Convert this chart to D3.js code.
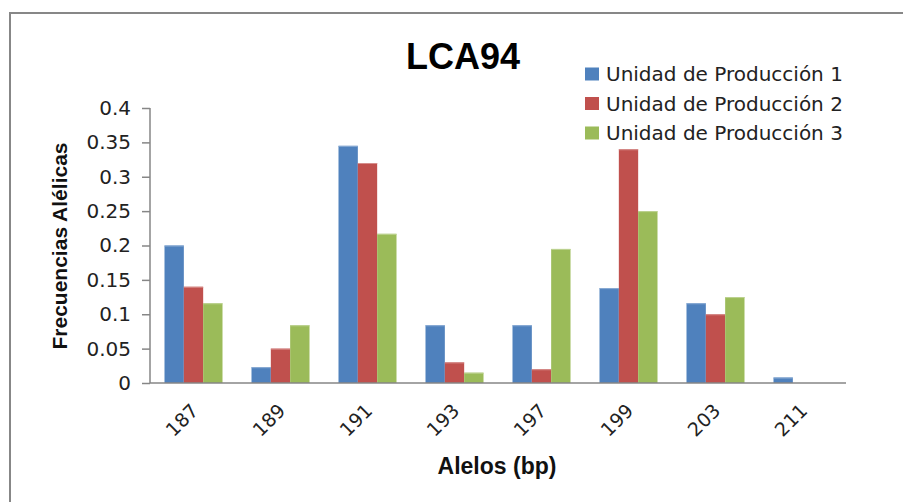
<!DOCTYPE html>
<html>
<head>
<meta charset="utf-8">
<script src="https://cdn.jsdelivr.net/npm/d3@7/dist/d3.min.js"></script>
<style>
  html, body { margin: 0; padding: 0; background: #fff; }
  svg { display: block; }
</style>
</head>
<body>
<svg id="chart" width="903" height="502"></svg>
<script>
// Allele sizes (bp) and allele frequencies per production unit
const alleles = ["187", "189", "191", "193", "197", "199", "203", "211"];
const unidad1 = [0.200, 0.023, 0.345, 0.084, 0.084, 0.138, 0.116, 0.008];
const unidad2 = [0.140, 0.050, 0.320, 0.030, 0.020, 0.340, 0.100, 0.000];
const unidad3 = [0.116, 0.084, 0.217, 0.015, 0.195, 0.250, 0.125, 0.000];
const seriesNames = ["Unidad de Producción 1", "Unidad de Producción 2", "Unidad de Producción 3"];
const seriesColors = ["#4F81BD", "#C0504D", "#9BBB59"];
const yTicks = [0, 0.05, 0.1, 0.15, 0.2, 0.25, 0.3, 0.35, 0.4];

const series = [unidad1, unidad2, unidad3];

const svg = d3.select("#chart");
const plot = { left: 150, right: 846, top: 108, bottom: 383 };

// Chart frame (top and left edges)
svg.append("path")
  .attr("d", `M10,502 L10,13 L903,13`)
  .attr("fill", "none")
  .attr("stroke", "#878787")
  .attr("stroke-width", 2);

const x0 = d3.scaleBand()
  .domain(alleles)
  .range([plot.left, plot.right])
  .paddingInner(0)
  .paddingOuter(0);

// Gap of 1.5 bar widths between groups
const bw = x0.bandwidth() / 4.5;
const x1 = d3.scaleBand()
  .domain(d3.range(series.length))
  .range([0.75 * bw, 3.75 * bw]);

const y = d3.scaleLinear().domain([0, 0.4]).range([plot.bottom, plot.top]);

const lighten = c => d3.interpolateRgb(c, "#ffffff")(0.35);

// Bars
const groups = svg.append("g").selectAll("g")
  .data(alleles)
  .join("g")
  .attr("transform", d => `translate(${x0(d)},0)`);

groups.selectAll("rect")
  .data((d, i) => series.map((s, k) => ({ k, v: s[i] })))
  .join("rect")
  .filter(d => d.v > 0)
  .attr("x", d => x1(d.k))
  .attr("width", x1.bandwidth())
  .attr("y", d => y(d.v))
  .attr("height", d => y(0) - y(d.v))
  .attr("fill", d => seriesColors[d.k]);

// Light top edge on each bar
groups.selectAll("line.edge")
  .data((d, i) => series.map((s, k) => ({ k, v: s[i] })).filter(d => d.v > 0))
  .join("line")
  .attr("class", "edge")
  .attr("x1", d => x1(d.k))
  .attr("x2", d => x1(d.k) + x1.bandwidth())
  .attr("y1", d => y(d.v) + 0.5)
  .attr("y2", d => y(d.v) + 0.5)
  .attr("stroke", d => lighten(seriesColors[d.k]))
  .attr("stroke-width", 1);

// Y axis
const yAxis = svg.append("g")
  .attr("transform", `translate(${plot.left},0)`)
  .call(d3.axisLeft(y).tickValues(yTicks).tickSize(8).tickPadding(11)
    .tickFormat(d => d3.format("")(+d.toFixed(2))));
yAxis.select(".domain").attr("stroke", "#868686").attr("stroke-width", 1.5)
  .attr("d", `M0,${plot.top}V${plot.bottom}`);
yAxis.selectAll(".tick line").attr("stroke", "#868686").attr("stroke-width", 1.5);
yAxis.selectAll(".tick text")
  .attr("font-family", "DejaVu Sans")
  .attr("font-size", 20)
  .attr("fill", "#222");

// X axis
const xAxis = svg.append("g")
  .attr("transform", `translate(0,${plot.bottom})`)
  .call(d3.axisBottom(x0).tickSize(0).tickPadding(0));
xAxis.select(".domain").attr("stroke", "#868686").attr("stroke-width", 1.5)
  .attr("d", `M${plot.left},0H${plot.right}`);
xAxis.selectAll(".tick text")
  .attr("font-family", "DejaVu Sans")
  .attr("font-size", 19)
  .attr("fill", "#222")
  .attr("text-anchor", "end")
  .attr("dy", null)
  .attr("transform", "translate(6,29) rotate(-45)");

// Axis titles
svg.append("text")
  .attr("transform", `translate(67,246) rotate(-90)`)
  .attr("text-anchor", "middle")
  .attr("font-family", "Liberation Sans")
  .attr("font-weight", "bold")
  .attr("font-size", 21)
  .attr("fill", "#111")
  .text("Frecuencias Alélicas");

svg.append("text")
  .attr("x", 497)
  .attr("y", 474)
  .attr("text-anchor", "middle")
  .attr("font-family", "Liberation Sans")
  .attr("font-weight", "bold")
  .attr("font-size", 23)
  .attr("fill", "#111")
  .text("Alelos (bp)");

// Title
svg.append("text")
  .attr("x", 463)
  .attr("y", 69)
  .attr("text-anchor", "middle")
  .attr("font-family", "Liberation Sans")
  .attr("font-weight", "bold")
  .attr("font-size", 36)
  .attr("fill", "#000")
  .text("LCA94");

// Legend
const legend = svg.append("g").attr("transform", "translate(585,74)");
const items = legend.selectAll("g")
  .data(seriesNames)
  .join("g")
  .attr("transform", (d, i) => `translate(0,${i * 29.5})`);
items.append("rect")
  .attr("x", 0).attr("y", -6.5)
  .attr("width", 14).attr("height", 13)
  .attr("fill", (d, i) => seriesColors[i]);
items.append("text")
  .attr("x", 21)
  .attr("y", 0)
  .attr("dy", "0.35em")
  .attr("font-family", "DejaVu Sans")
  .attr("font-size", 20)
  .attr("fill", "#222")
  .text(d => d);
</script>
</body>
</html>
